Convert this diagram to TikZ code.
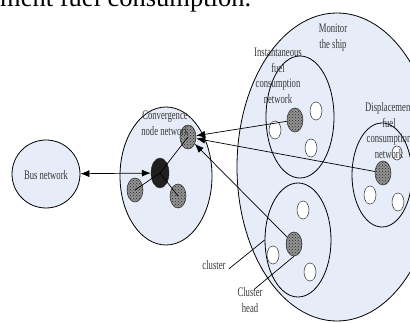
\documentclass[tikz,border=0pt]{standalone}
\usepackage{fontspec}
\setmainfont{Liberation Serif}
\newfontfamily\narrowfont[FakeStretch=0.665]{Liberation Serif}
\usetikzlibrary{shapes.geometric,arrows.meta,patterns}
\definecolor{netblue}{RGB}{230,236,248}
\definecolor{txtgray}{RGB}{55,55,55}
\definecolor{edgegray}{RGB}{40,40,40}
\tikzset{
  netzone/.style={ellipse,draw=black,line width=0.8pt,fill=netblue,inner sep=0pt},
  subzone/.style={ellipse,draw=black,line width=0.8pt,inner sep=0pt},
  headnode/.style={ellipse,draw=edgegray,line width=0.5pt,fill=gray!85,inner sep=0pt,
    minimum width=16pt,minimum height=24pt,
    postaction={pattern=crosshatch dots,pattern color=gray!30!black}},
  darknode/.style={ellipse,draw=edgegray,fill=gray!25!black,inner sep=0pt,
    minimum width=18pt,minimum height=30pt},
  leafnode/.style={ellipse,draw=edgegray,line width=0.5pt,fill=white,inner sep=0pt,
    minimum width=12pt,minimum height=18pt},
  lbl/.style={font=\narrowfont\fontsize{13}{15.5}\selectfont,text=txtgray,align=center,inner sep=0pt},
  conn/.style={line width=0.7pt,draw=black},
  arr/.style={conn,-{Latex[length=9pt,width=7pt]}},
  darr/.style={conn,{Latex[length=9pt,width=7pt]}-{Latex[length=9pt,width=7pt]}}
}
\begin{document}
\begin{tikzpicture}[x=1pt,y=-1pt]
\useasboundingbox (0,0) rectangle (410,323);
% caption fragment at top
\node[anchor=base west,inner sep=0pt,font=\fontsize{26.5}{30}\selectfont] (cap) at (0,7) {ment fuel consumption.};
% zones
\node[netzone,minimum width=200pt,minimum height=308pt] (mon) at (337,167) {};
\node[subzone,minimum width=68pt,minimum height=122pt] (inst) at (300,117) {};
\node[subzone,minimum width=60pt,minimum height=104pt] (disp) at (382,175) {};
\node[subzone,minimum width=66pt,minimum height=114pt] (cl) at (298,240) {};
\node[netzone,minimum width=92pt,minimum height=138pt] (conv) at (166,176) {};
\node[netzone,circle,minimum size=68pt] (bus) at (46,174) {};
% convergence network nodes
\node[headnode] (c1) at (188,137) {};
\node[headnode] (c2) at (135,190) {};
\node[headnode] (c3) at (178,196) {};
\node[darknode] (dk) at (160,173) {};
% instantaneous
\node[headnode] (ig) at (295,120) {};
\node[leafnode] (iw1) at (316,111) {};
\node[leafnode] (iw2) at (275,130) {};
\node[leafnode] (iw3) at (311,148) {};
% displacement
\node[headnode] (dg) at (383,173) {};
\node[leafnode] (dw1) at (370,195) {};
\node[leafnode] (dw2) at (398,202) {};
\node[leafnode,minimum width=10pt,minimum height=14pt] (dw3) at (397,153) {};
% cluster
\node[headnode] (cg) at (294,244) {};
\node[leafnode] (cw1) at (303,210) {};
\node[leafnode] (cw2) at (273,255) {};
\node[leafnode] (cw3) at (310,272) {};
% internal links
\draw[conn] (dk.center) -- (c1.center);
\draw[conn] (dk.center) -- (c2.center);
\draw[conn] (dk.center) -- (c3.center);
% arrows
\draw[darr] (bus) -- (dk);
\draw[arr] (ig) -- (c1);
\draw[arr] (dg) -- (c1);
\draw[arr] (cg) -- (c1);
% labels
\node[lbl] (lbus) at (46,175) {Bus network};
\node[lbl] (lconv) at (165,123.5) {Convergence\\node network};
\node[lbl] (lmon) at (333,37.5) {Monitor\\the ship};
\node[lbl] (linst) at (278,76) {Instantaneous\\fuel\\consumption\\network};
\node[lbl] (ldisp) at (389,130.5) {Displacement\\fuel\\consumption\\network};
\node[lbl] (lcl) at (214,265) {cluster};
\node[lbl] (lch) at (250,300) {Cluster\\head};
\draw[conn] ([xshift=3pt,yshift=-4pt]lcl.east) -- (cl.west);
\draw[conn] ([xshift=4pt,yshift=-2pt]lch.north) -- (cg.south);
\end{tikzpicture}
\end{document}
